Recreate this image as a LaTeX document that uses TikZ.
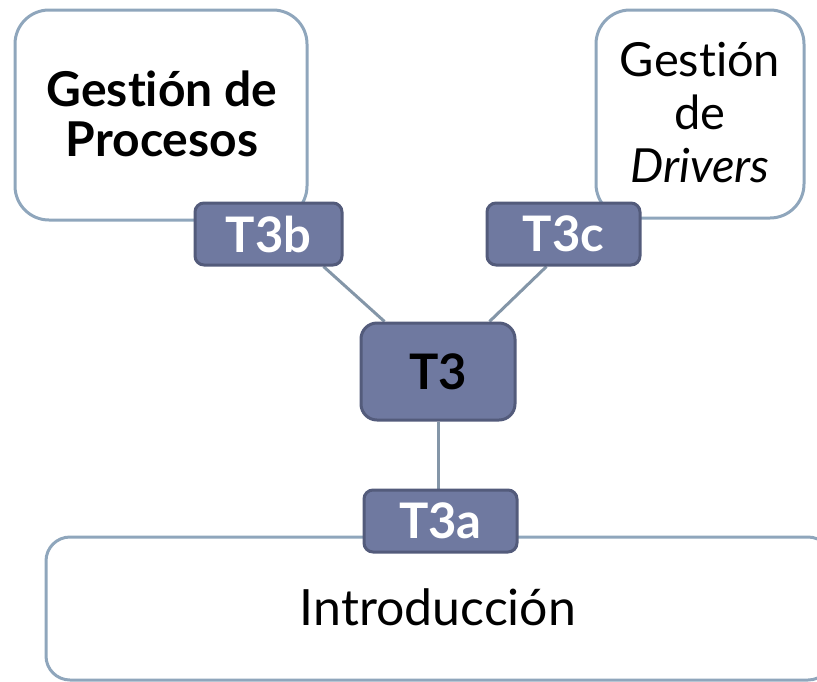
\documentclass[tikz,border=0pt]{standalone}
\usepackage{fontspec}
\setmainfont{Lato}[Ligatures=NoCommon]
\usetikzlibrary{calc,backgrounds}
\definecolor{edgeblue}{HTML}{8FA6BC}
\definecolor{linkcol}{HTML}{8496A8}
\definecolor{tabfill}{HTML}{6F79A0}
\definecolor{tabdraw}{HTML}{535B7B}
\begin{document}
\begin{tikzpicture}[x=1pt,y=-1pt,
  bigbox/.style={draw=edgeblue,line width=3pt,fill=white,rounded corners=34pt},
  tab/.style={draw=tabdraw,line width=3pt,fill=tabfill,rounded corners=9pt,inner sep=0pt,font=\bfseries\fontsize{49}{52}\selectfont},
  link/.style={draw=linkcol,line width=3pt}]
\useasboundingbox (0,0) rectangle (817,681);
\begin{scope}
\clip (0,0) rectangle (817,681);
% big boxes
\draw[bigbox] (15,10) rectangle (307,220);
\node[font=\bfseries\fontsize{48}{50}\selectfont,align=center] (proc) at (162,114) {Gestión de\\Procesos};
\draw[bigbox] (596,10) rectangle (804,218);
\node[font=\fontsize{47}{53}\selectfont,align=center] (drv) at (700,113) {Gestión\\de\\\itshape Drivers};
\draw[bigbox,rounded corners=24pt] (46,537) rectangle (832,680);
\node[font=\fontsize{50}{54}\selectfont] (intro) at (438,607) {Introducción};
% tabs
\node[tab,text=white,minimum width=147pt,minimum height=62pt] (t3b) at (268.5,234) {T3b};
\node[tab,text=white,minimum width=153pt,minimum height=62pt] (t3c) at (563.5,234) {T3c};
\node[tab,text=white,minimum width=153pt,minimum height=62pt] (t3a) at (440.5,521) {T3a};
\node[tab,text=black,minimum width=154pt,minimum height=97pt,rounded corners=16pt] (t3) at (438,371.5) {T3};
% connectors
\begin{scope}[on background layer]
\draw[link] ($(t3b.south east)+(-20,0)$) -- ($(t3.north west)+(25,0)$);
\draw[link] ($(t3c.south west)+(61,0)$) -- ($(t3.north east)+(-27,0)$);
\draw[link] (t3.south) -- (t3.south |- t3a.north);
\end{scope}
\end{scope}
\end{tikzpicture}
\end{document}
